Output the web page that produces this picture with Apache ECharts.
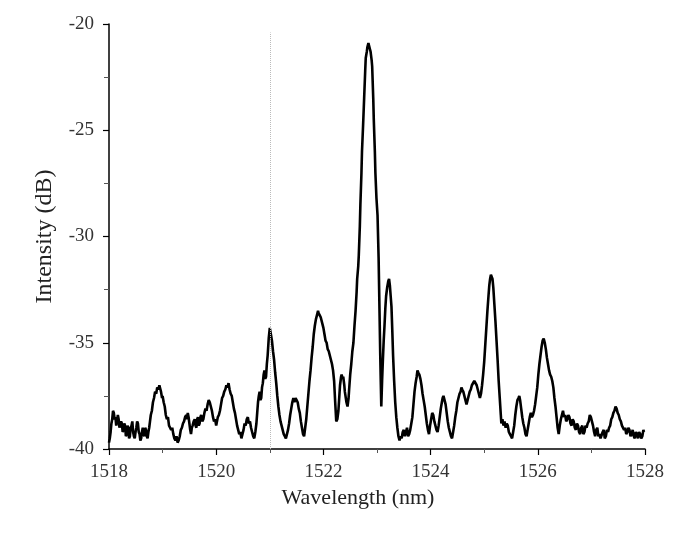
<!DOCTYPE html>
<html>
<head>
<meta charset="utf-8">
<script src="https://cdn.jsdelivr.net/npm/echarts@6/dist/echarts.min.js"></script>
<style>
html,body{margin:0;padding:0;background:#fff;}
#chart{width:677px;height:533px;}
</style>
</head>
<body>
<div id="chart"></div>
<script>
// Spectrum: [wavelength (nm), intensity (dB)]
var spectrum = [
[1518.00,-39.7],[1518.015,-39.5],[1518.03,-39.2],[1518.045,-38.8],[1518.06,-38.6],[1518.075,-38.2],[1518.09,-38.3],[1518.105,-38.6],[1518.12,-38.5],[1518.135,-38.9],[1518.15,-38.7],
[1518.165,-38.4],[1518.18,-38.6],[1518.195,-39.0],[1518.21,-39.0],[1518.225,-38.7],[1518.24,-38.8],[1518.255,-39.2],[1518.27,-39.1],[1518.285,-38.8],[1518.30,-38.9],[1518.315,-39.4],[1518.33,-39.3],
[1518.345,-38.9],[1518.36,-39.0],[1518.375,-39.5],[1518.39,-39.4],[1518.405,-39.0],[1518.42,-38.9],[1518.435,-38.7],[1518.45,-39.2],[1518.465,-39.4],[1518.48,-39.5],[1518.495,-39.2],[1518.51,-39.0],
[1518.525,-38.7],[1518.54,-38.8],[1518.555,-39.2],[1518.57,-39.3],[1518.585,-39.6],[1518.60,-39.5],[1518.615,-39.2],[1518.63,-39.0],[1518.645,-39.3],[1518.66,-39.4],[1518.675,-39.0],[1518.69,-39.1],
[1518.705,-39.4],[1518.72,-39.5],[1518.735,-39.2],[1518.75,-39.0],[1518.765,-38.7],[1518.78,-38.4],[1518.80,-38.2],[1518.82,-37.8],[1518.84,-37.6],[1518.86,-37.3],[1518.88,-37.4],[1518.90,-37.1],
[1518.92,-37.2],[1518.94,-37.0],[1518.96,-37.2],[1518.97,-37.3],[1518.99,-37.6],[1519.00,-37.5],[1519.02,-37.8],[1519.04,-38.0],[1519.06,-38.4],[1519.08,-38.6],[1519.10,-38.5],[1519.12,-38.9],
[1519.14,-39.0],[1519.16,-39.1],[1519.18,-39.0],[1519.20,-39.3],[1519.22,-39.5],[1519.24,-39.6],[1519.26,-39.4],[1519.28,-39.7],[1519.30,-39.6],[1519.32,-39.4],[1519.34,-39.1],[1519.36,-39.0],
[1519.38,-38.8],[1519.40,-38.7],[1519.42,-38.5],[1519.44,-38.4],[1519.455,-38.6],[1519.47,-38.3],[1519.485,-38.5],[1519.50,-38.8],[1519.515,-39.1],[1519.53,-39.3],[1519.545,-39.0],[1519.56,-38.9],
[1519.58,-38.7],[1519.60,-38.6],[1519.615,-38.9],[1519.63,-39.0],[1519.645,-38.6],[1519.66,-38.5],[1519.675,-38.9],[1519.69,-38.8],[1519.705,-38.5],[1519.72,-38.4],[1519.74,-38.7],[1519.76,-38.6],
[1519.78,-38.3],[1519.80,-38.1],[1519.82,-38.2],[1519.84,-37.9],[1519.86,-37.7],[1519.88,-37.8],[1519.90,-38.0],[1519.92,-38.2],[1519.94,-38.5],[1519.96,-38.7],[1519.98,-38.6],[1520.00,-38.9],
[1520.015,-38.7],[1520.03,-38.5],[1520.05,-38.4],[1520.07,-38.2],[1520.09,-37.9],[1520.11,-37.6],[1520.13,-37.5],[1520.15,-37.3],[1520.17,-37.2],[1520.19,-37.0],[1520.21,-37.1],[1520.23,-36.9],
[1520.25,-37.2],[1520.27,-37.4],[1520.29,-37.5],[1520.31,-37.8],[1520.33,-38.1],[1520.35,-38.3],[1520.37,-38.6],[1520.39,-38.9],[1520.41,-39.1],[1520.43,-39.3],[1520.45,-39.2],[1520.47,-39.5],
[1520.49,-39.3],[1520.51,-39.1],[1520.53,-38.8],[1520.55,-38.9],[1520.57,-38.6],[1520.59,-38.5],[1520.61,-38.8],[1520.63,-38.7],[1520.65,-39.0],[1520.67,-39.2],[1520.69,-39.4],[1520.71,-39.5],
[1520.73,-39.2],[1520.75,-38.8],[1520.765,-38.3],[1520.78,-37.8],[1520.795,-37.5],[1520.81,-37.3],[1520.825,-37.7],[1520.84,-37.6],[1520.855,-37.1],[1520.87,-36.9],[1520.885,-36.5],[1520.90,-36.3],
[1520.915,-36.7],[1520.93,-36.6],[1520.945,-36.0],[1520.96,-35.6],[1520.98,-34.8],[1521.00,-34.3],[1521.02,-34.6],[1521.04,-34.9],[1521.06,-35.4],[1521.08,-35.8],[1521.10,-36.4],[1521.12,-36.9],
[1521.14,-37.5],[1521.16,-38.0],[1521.18,-38.4],[1521.20,-38.7],[1521.22,-38.9],[1521.24,-39.1],[1521.26,-39.3],[1521.28,-39.4],[1521.30,-39.5],[1521.32,-39.3],[1521.34,-39.1],[1521.36,-38.8],
[1521.38,-38.4],[1521.40,-38.1],[1521.42,-37.8],[1521.44,-37.6],[1521.46,-37.8],[1521.48,-37.6],[1521.50,-37.7],[1521.52,-37.8],[1521.54,-38.1],[1521.56,-38.3],[1521.58,-38.7],[1521.60,-39.0],
[1521.62,-39.3],[1521.64,-39.4],[1521.66,-39.0],[1521.68,-38.6],[1521.70,-38.0],[1521.72,-37.4],[1521.74,-36.8],[1521.76,-36.3],[1521.78,-35.7],[1521.80,-35.2],[1521.82,-34.6],[1521.84,-34.2],
[1521.86,-33.9],[1521.88,-33.7],[1521.90,-33.5],[1521.91,-33.6],[1521.93,-33.7],[1521.95,-33.8],[1521.98,-34.1],[1522.00,-34.3],[1522.02,-34.6],[1522.04,-34.9],[1522.06,-35.0],[1522.08,-35.3],
[1522.10,-35.4],[1522.12,-35.6],[1522.14,-35.8],[1522.16,-36.0],[1522.18,-36.3],[1522.20,-36.8],[1522.22,-37.8],[1522.24,-38.7],[1522.26,-38.6],[1522.28,-38.2],[1522.30,-37.4],[1522.31,-37.0],
[1522.33,-36.6],[1522.34,-36.5],[1522.36,-36.7],[1522.37,-36.6],[1522.39,-37.0],[1522.40,-37.3],[1522.43,-37.8],[1522.45,-38.0],[1522.47,-37.6],[1522.48,-37.2],[1522.50,-36.5],[1522.52,-36.0],
[1522.54,-35.4],[1522.56,-35.0],[1522.58,-34.2],[1522.60,-33.5],[1522.62,-32.6],[1522.63,-32.0],[1522.65,-31.4],[1522.66,-30.9],[1522.68,-29.5],[1522.69,-28.5],[1522.71,-27.0],[1522.72,-26.0],
[1522.74,-24.8],[1522.76,-23.5],[1522.78,-22.2],[1522.79,-21.6],[1522.81,-21.3],[1522.82,-21.1],[1522.84,-20.9],[1522.85,-21.0],[1522.87,-21.2],[1522.88,-21.3],[1522.90,-21.7],[1522.91,-22.0],
[1522.93,-23.5],[1522.94,-24.5],[1522.96,-26.0],[1522.97,-27.0],[1522.99,-28.2],[1523.01,-29.0],[1523.03,-31.0],[1523.04,-32.5],[1523.05,-34.0],[1523.06,-35.5],[1523.07,-36.8],[1523.08,-38.0],
[1523.095,-36.8],[1523.11,-35.8],[1523.125,-34.9],[1523.14,-34.2],[1523.155,-33.4],[1523.17,-32.8],[1523.19,-32.4],[1523.21,-32.1],[1523.225,-32.0],[1523.24,-32.3],[1523.255,-32.8],[1523.27,-33.3],
[1523.285,-34.4],[1523.30,-35.6],[1523.32,-36.8],[1523.34,-37.8],[1523.36,-38.5],[1523.38,-39.0],[1523.40,-39.4],[1523.42,-39.6],[1523.44,-39.4],[1523.46,-39.5],[1523.48,-39.2],[1523.50,-39.1],
[1523.52,-39.4],[1523.54,-39.2],[1523.56,-39.0],[1523.58,-39.4],[1523.60,-39.3],[1523.62,-39.1],[1523.64,-38.8],[1523.66,-38.5],[1523.68,-37.9],[1523.70,-37.3],[1523.72,-36.9],[1523.74,-36.6],
[1523.755,-36.3],[1523.77,-36.4],[1523.79,-36.5],[1523.81,-36.7],[1523.83,-37.0],[1523.85,-37.4],[1523.87,-37.7],[1523.89,-38.0],[1523.91,-38.4],[1523.93,-38.8],[1523.95,-39.1],[1523.97,-39.3],
[1523.99,-38.9],[1524.01,-38.6],[1524.03,-38.3],[1524.05,-38.4],[1524.07,-38.7],[1524.09,-38.9],[1524.11,-39.1],[1524.13,-39.2],[1524.15,-38.9],[1524.17,-38.5],[1524.19,-38.1],[1524.21,-37.8],
[1524.225,-37.6],[1524.24,-37.5],[1524.26,-37.7],[1524.28,-37.9],[1524.30,-38.3],[1524.32,-38.7],[1524.34,-39.0],[1524.36,-39.2],[1524.38,-39.4],[1524.40,-39.5],[1524.42,-39.2],[1524.44,-38.9],
[1524.46,-38.5],[1524.48,-38.2],[1524.50,-37.8],[1524.52,-37.6],[1524.54,-37.4],[1524.56,-37.3],[1524.575,-37.1],[1524.59,-37.2],[1524.61,-37.3],[1524.63,-37.5],[1524.65,-37.7],[1524.67,-37.9],
[1524.69,-37.7],[1524.71,-37.5],[1524.73,-37.3],[1524.75,-37.2],[1524.77,-37.0],[1524.79,-37.0],[1524.815,-36.8],[1524.84,-36.8],[1524.86,-37.0],[1524.88,-37.2],[1524.90,-37.4],[1524.92,-37.6],
[1524.94,-37.4],[1524.96,-37.0],[1524.98,-36.5],[1525.00,-35.9],[1525.02,-35.1],[1525.04,-34.3],[1525.06,-33.5],[1525.08,-32.8],[1525.095,-32.3],[1525.11,-32.0],[1525.125,-31.8],[1525.14,-31.8],
[1525.155,-32.0],[1525.17,-32.4],[1525.19,-33.2],[1525.21,-34.0],[1525.23,-34.9],[1525.25,-35.8],[1525.27,-36.8],[1525.29,-37.6],[1525.31,-38.4],[1525.32,-38.8],[1525.34,-38.6],[1525.36,-38.9],
[1525.38,-38.7],[1525.40,-39.0],[1525.42,-38.8],[1525.44,-38.9],[1525.46,-39.2],[1525.48,-39.3],[1525.50,-39.4],[1525.52,-39.5],[1525.54,-39.2],[1525.56,-38.9],[1525.58,-38.4],[1525.60,-38.0],
[1525.62,-37.7],[1525.64,-37.6],[1525.655,-37.5],[1525.67,-37.7],[1525.69,-38.1],[1525.71,-38.5],[1525.73,-38.8],[1525.75,-39.0],[1525.77,-39.3],[1525.79,-39.4],[1525.81,-39.1],[1525.83,-38.8],
[1525.85,-38.5],[1525.87,-38.3],[1525.89,-38.5],[1525.91,-38.4],[1525.93,-38.2],[1525.95,-37.9],[1525.97,-37.5],[1525.99,-37.1],[1526.01,-36.5],[1526.03,-36.0],[1526.05,-35.6],[1526.07,-35.2],
[1526.09,-34.9],[1526.11,-34.8],[1526.13,-35.0],[1526.15,-35.3],[1526.17,-35.7],[1526.19,-36.0],[1526.21,-36.3],[1526.23,-36.5],[1526.25,-36.6],[1526.27,-36.8],[1526.29,-37.1],[1526.31,-37.6],
[1526.33,-38.0],[1526.35,-38.5],[1526.37,-39.0],[1526.39,-39.3],[1526.41,-38.9],[1526.43,-38.6],[1526.45,-38.4],[1526.47,-38.2],[1526.49,-38.5],[1526.51,-38.4],[1526.53,-38.7],[1526.55,-38.6],
[1526.57,-38.4],[1526.59,-38.5],[1526.61,-38.8],[1526.63,-38.9],[1526.65,-38.6],[1526.67,-38.7],[1526.69,-39.0],[1526.71,-39.1],[1526.73,-38.8],[1526.75,-38.9],[1526.77,-39.2],[1526.79,-39.3],
[1526.81,-39.0],[1526.83,-38.9],[1526.85,-39.3],[1526.87,-39.2],[1526.89,-38.9],[1526.91,-39.0],[1526.93,-38.8],[1526.95,-38.7],[1526.97,-38.4],[1526.99,-38.5],[1527.01,-38.7],[1527.03,-38.9],
[1527.05,-39.2],[1527.07,-39.4],[1527.09,-39.1],[1527.11,-39.0],[1527.13,-39.4],[1527.15,-39.3],[1527.17,-39.5],[1527.19,-39.5],[1527.21,-39.2],[1527.23,-39.1],[1527.25,-39.5],[1527.27,-39.4],
[1527.29,-39.1],[1527.31,-39.2],[1527.33,-39.0],[1527.35,-38.9],[1527.37,-38.6],[1527.39,-38.5],[1527.41,-38.3],[1527.43,-38.2],[1527.45,-38.0],[1527.47,-38.1],[1527.49,-38.3],[1527.51,-38.4],
[1527.53,-38.6],[1527.55,-38.7],[1527.57,-38.9],[1527.59,-38.9],[1527.61,-39.1],[1527.63,-39.0],[1527.65,-39.3],[1527.67,-39.2],[1527.69,-39.0],[1527.71,-39.1],[1527.73,-39.4],[1527.75,-39.3],
[1527.77,-39.1],[1527.79,-39.4],[1527.81,-39.5],[1527.83,-39.2],[1527.85,-39.3],[1527.87,-39.5],[1527.89,-39.2],[1527.91,-39.3],[1527.93,-39.5],[1527.95,-39.4],[1527.97,-39.1],[1527.98,-39.2]
];
var xRange = [1518, 1528];
var yRange = [-40, -20];
var markerWavelength = 1521;
var markerTop = -20.4;

var FONT = '"Liberation Serif","DejaVu Serif",serif';
var chart = echarts.init(document.getElementById('chart'), null, {renderer: 'canvas'});
chart.setOption({
  animation: false,
  backgroundColor: '#ffffff',
  grid: {left: 109, right: 32, top: 24, bottom: 84},
  xAxis: {
    type: 'value', min: xRange[0], max: xRange[1], interval: 2,
    name: 'Wavelength (nm)', nameLocation: 'middle', nameGap: 28,
    nameTextStyle: {fontFamily: FONT, fontSize: 22, color: '#222', padding: [0, 38, 0, 0]},
    axisLine: {show: true, onZero: false, lineStyle: {color: '#000', width: 1.5}},
    axisTick: {show: true, inside: false, length: 6, lineStyle: {color: '#000', width: 1.2}},
    minorTick: {show: true, splitNumber: 2, length: 4, lineStyle: {color: '#555', width: 1}},
    axisLabel: {fontFamily: FONT, fontSize: 19, color: '#333', margin: 14,
      formatter: function (v) { return String(v); }},
    splitLine: {show: false}
  },
  yAxis: {
    type: 'value', min: yRange[0], max: yRange[1], interval: 5,
    name: 'Intensity (dB)', nameLocation: 'middle', nameGap: 52,
    nameTextStyle: {fontFamily: FONT, fontSize: 24, color: '#222'},
    axisLine: {show: true, onZero: false, lineStyle: {color: '#000', width: 1.5}},
    axisTick: {show: true, inside: false, length: 6, lineStyle: {color: '#000', width: 1.2}},
    minorTick: {show: true, splitNumber: 2, length: 5, lineStyle: {color: '#555', width: 1}},
    axisLabel: {fontFamily: FONT, fontSize: 19, color: '#333', margin: 15},
    splitLine: {show: false}
  },
  series: [{
    type: 'line',
    data: spectrum,
    showSymbol: false,
    symbol: 'none',
    lineStyle: {color: '#000', width: 2.6},
    markLine: {
      silent: true, symbol: 'none', label: {show: false},
      lineStyle: {color: '#bbbbbb', width: 1, type: 'dotted'},
      data: [[{coord: [markerWavelength, yRange[0]]}, {coord: [markerWavelength, markerTop]}]]
    }
  }]
});
</script>
</body>
</html>
